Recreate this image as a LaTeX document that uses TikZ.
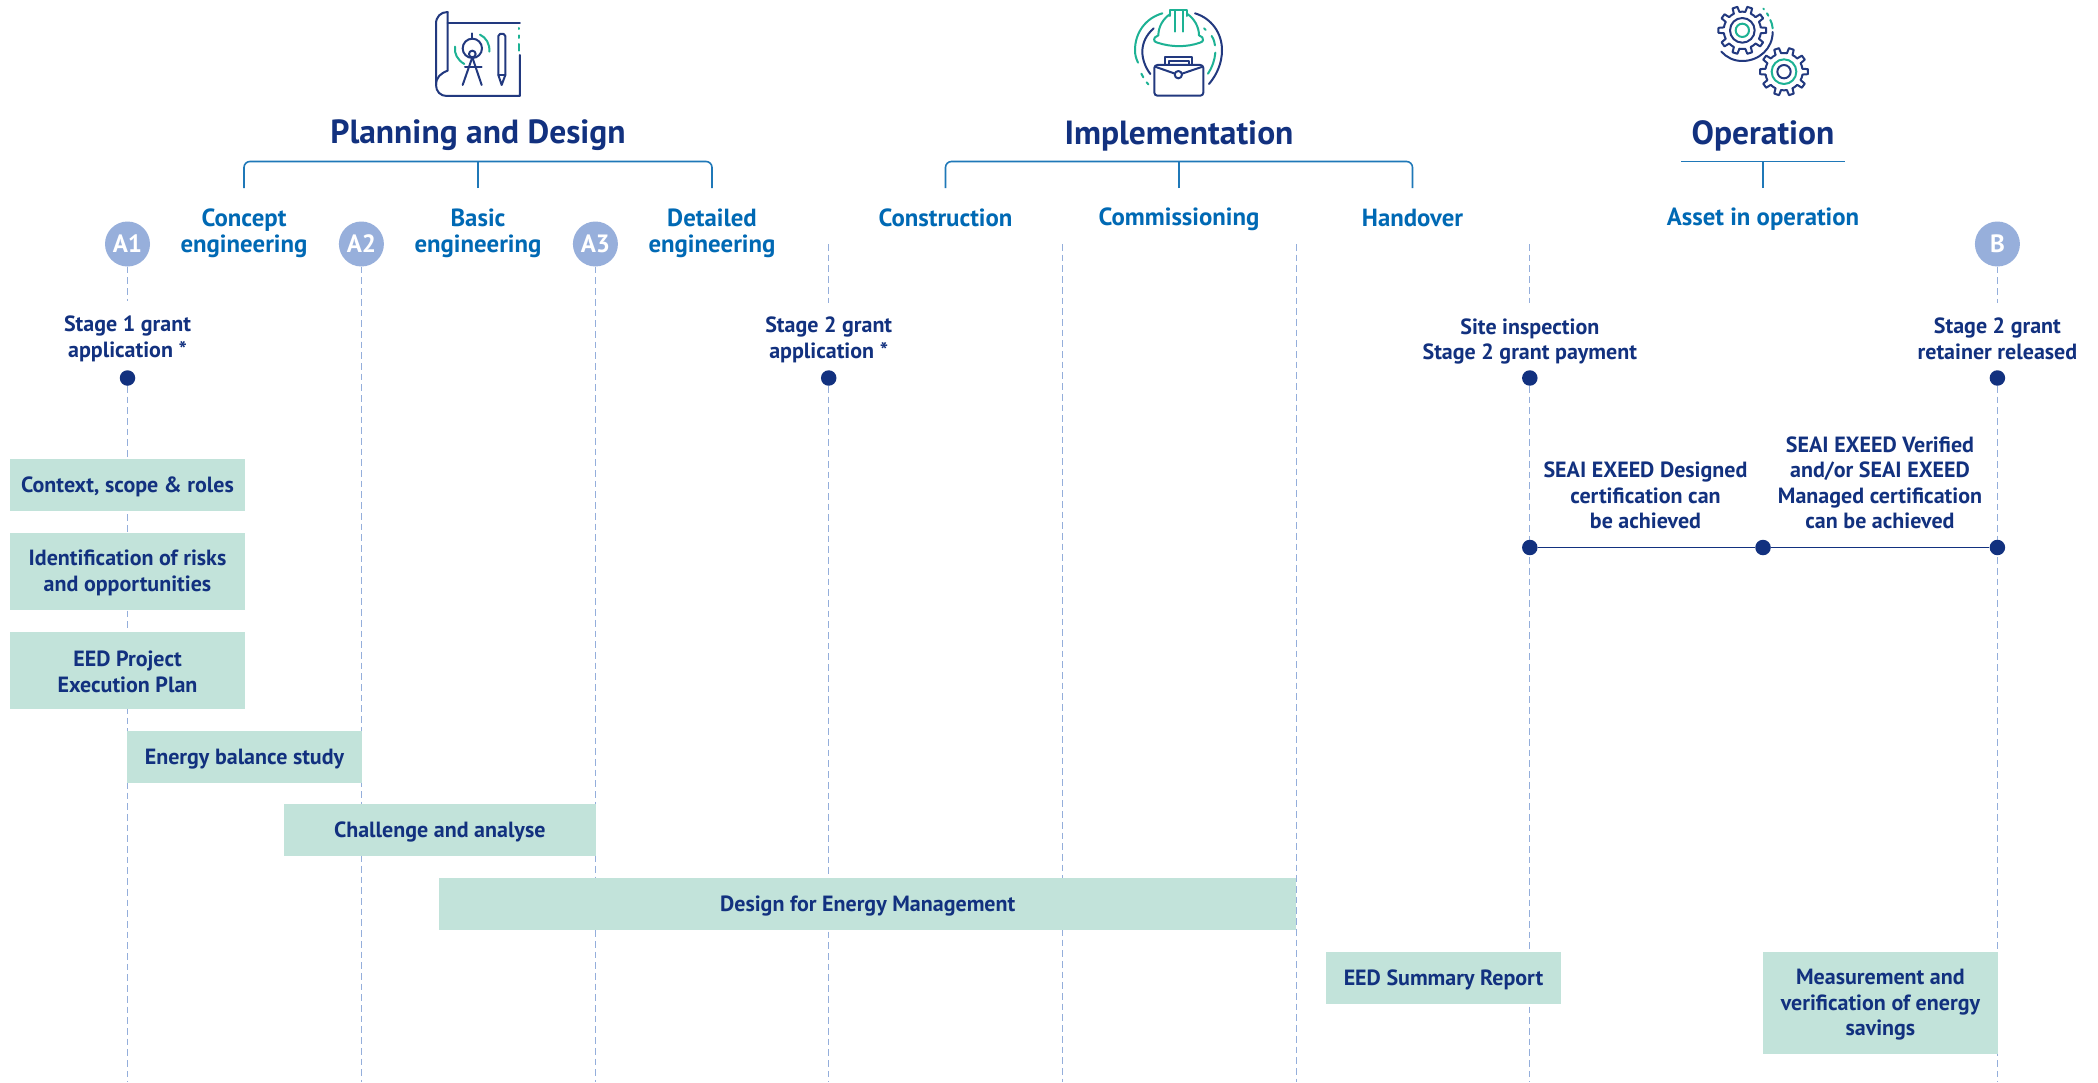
\documentclass[tikz,border=0pt]{standalone}
\usepackage{fontspec}
\setmainfont{PT Sans}[BoldFont={PT Sans Bold}]
\definecolor{navy}{HTML}{12317F}
\definecolor{iconnavy}{HTML}{22397F}
\definecolor{iconteal}{HTML}{1DB294}
\definecolor{lblue}{HTML}{0069B4}
\definecolor{brk}{HTML}{1F78B8}
\definecolor{disc}{HTML}{97AFDB}
\definecolor{boxfill}{HTML}{C2E3DA}
\definecolor{dashc}{HTML}{94AEDB}
\newcommand{\dn}{\rule{0pt}{19pt}}
\tikzset{
 x=1pt,y=-1pt,
 title/.style={font=\fontsize{33.5}{33.5}\selectfont\bfseries,text=navy,inner sep=0},
 phase/.style={font=\fontsize{24.8}{26}\selectfont\bfseries,text=lblue,align=center,inner sep=0},
 note/.style={font=\fontsize{22}{25.5}\selectfont\bfseries,text=navy,align=center,inner sep=0},
 disc/.style={circle,fill=disc,minimum size=45pt,inner sep=0,font=\fontsize{25}{25}\selectfont\bfseries,text=white},
 dot/.style={circle,fill=navy,minimum size=15.5pt,inner sep=0},
 taskbox/.style={fill=boxfill,inner sep=0,font=\fontsize{22}{25.5}\selectfont\bfseries,text=navy,align=center},
 guide/.style={draw=dashc,line width=1.3pt,dash pattern=on 6.7pt off 4pt},
 bracket/.style={draw=brk,line width=1.6pt,rounded corners=6pt},
 stem/.style={draw=brk,line width=1.6pt},
 tl/.style={draw=navy,line width=1.6pt},
 ic/.style={draw=iconnavy,line width=2pt,line cap=round,line join=round},
 it/.style={draw=iconteal,line width=2pt,line cap=round,line join=round},
}
\newcommand{\gearshape}[3]{% cx cy style
 \foreach \a in {0,36,...,324}{
  \draw[#3] ($(#1,#2)+(\a-9:56)$) -- ($(#1,#2)+(\a-6:72)$) -- ($(#1,#2)+(\a+6:72)$) -- ($(#1,#2)+(\a+9:56)$) arc[start angle=\a+9,end angle=\a+27,radius=56];
 }}
\usetikzlibrary{calc}
\begin{document}
\begin{tikzpicture}
\useasboundingbox (0,0) rectangle (2098,1082);
\fill[white] (0,0) rectangle (2098,1082);

% guides anchors
\node[disc] (A1) at (127.5,244) {A1};
\node[disc] (A2) at (361.4,244) {A2};
\node[disc] (A3) at (595.4,244) {A3};
\node[disc] (B) at (1997.4,244) {B};
\coordinate (g4t) at (828.7,244);
\coordinate (g5t) at (1062.4,244);
\coordinate (g6t) at (1296.4,244);
\coordinate (g7t) at (1529.8,244);
\coordinate (A1a) at (127.5,301);
\coordinate (g4a) at (828.7,303);
\coordinate (g7a) at (1529.8,303);
\coordinate (Ba) at (1997.4,303);
\node[dot] (d1) at (127.5,378) {};
\node[dot] (d4) at (828.7,378) {};
\node[dot] (d7) at (1529.8,378) {};
\node[dot] (dB) at (1997.4,378) {};
\coordinate (A1e) at (127.5,1082);
\coordinate (A2e) at (361.4,1082);
\coordinate (A3e) at (595.4,1082);
\coordinate (g4e) at (828.7,1082);
\coordinate (g5e) at (1062.4,1082);
\coordinate (g6e) at (1296.4,1082);
\coordinate (g7e) at (1529.8,1082);
\coordinate (Be) at (1997.4,1082);

\draw[guide] (A1) -- (A1a);
\draw[guide] (d1) -- (A1e);
\draw[guide] (A2) -- (A2e);
\draw[guide] (A3) -- (A3e);
\draw[guide] (g4t) -- (g4a);
\draw[guide] (d4) -- (g4e);
\draw[guide] (g5t) -- (g5e);
\draw[guide] (g6t) -- (g6e);
\draw[guide] (g7t) -- (g7a);
\draw[guide] (d7) -- (g7e);
\draw[guide] (B) -- (Ba);
\draw[guide] (dB) -- (Be);

% titles
\node[title] (t1) at (478,135.5) {Planning and Design};
\node[title] (t2) at (1179,135.5) {Implementation};
\node[title] (t3) at (1763,135.5) {Operation};

% phases
\node[phase] (p1) at (244,233) {Concept\\engineering};
\node[phase] (p2) at (478,233) {Basic\\engineering};
\node[phase] (p3) at (712,233) {Detailed\\engineering};
\node[phase] (p4) at (945.5,217.5) {Construction};
\node[phase] (p5) at (1179,219) {Commissioning};
\node[phase] (p6) at (1412.5,217.5) {Handover};
\node[phase] (p7) at (1763,219.5) {Asset in operation};

% brackets
\coordinate (b1a) at (244,188); \coordinate (b1m) at (478,188); \coordinate (b1b) at (712,188);
\coordinate (b2a) at (945.5,188); \coordinate (b2m) at (1179,188); \coordinate (b2b) at (1412.5,188);
\coordinate (b3a) at (1681,161.5); \coordinate (b3m) at (1763,188); \coordinate (b3b) at (1845,161.5);
\draw[bracket] (b1a) |- (b1b |- 0,161.5) -- (b1b);
\draw[stem] (b1m) -- (b1m |- 0,161.5);
\draw[bracket] (b2a) |- (b2b |- 0,161.5) -- (b2b);
\draw[stem] (b2m) -- (b2m |- 0,161.5);
\draw[stem] (b3a) -- (b3b);
\draw[stem] (b3m) -- (b3m |- 0,161.5);

% notes
\node[note] (n1) at (127.5,339) {Stage 1 grant\\application *};
\node[note] (n2) at (828.7,340) {Stage 2 grant\\application *};
\node[note] (n3) at (1529.8,341.3) {Site inspection\\Stage 2 grant payment};
\node[note] (n4) at (1997.4,339) {Stage 2 grant\\retainer released};
\node[note] (n5) at (1645.5,495.5) {SEAI EXEED Designed\\certification can\\be achieved};
\node[note] (n6) at (1880,483) {SEAI EXEED Verified\\and/or SEAI EXEED\\Managed certification\\can be achieved};

\node[dot] (t1d) at (1529.8,547.5) {};
\node[dot] (t2d) at (1763,547.5) {};
\node[dot] (t3d) at (1997.4,547.5) {};
\draw[tl] (t1d) -- (t2d);
\draw[tl] (t2d) -- (t3d);

% tasks
\node[taskbox,minimum width=235pt,minimum height=51.7pt] (k1) at (127.5,484.85) {\dn Context, scope \& roles};
\node[taskbox,minimum width=235pt,minimum height=76.7pt] (k2) at (127.5,571.35) {\dn Identification of risks\\and opportunities};
\node[taskbox,minimum width=235pt,minimum height=76.7pt] (k3) at (127.5,670.35) {\dn EED Project\\Execution Plan};
\node[taskbox,minimum width=234.4pt,minimum height=51.7pt] (k4) at (244.5,756.85) {\dn Energy balance study};
\node[taskbox,minimum width=311.5pt,minimum height=51.7pt] (k5) at (439.75,829.85) {\dn Challenge and analyse};
\node[taskbox,minimum width=857.4pt,minimum height=51.7pt] (k6) at (867.7,904.15) {\dn Design for Energy Management};
\node[taskbox,minimum width=235pt,minimum height=51.7pt] (k7) at (1443.5,977.85) {\dn EED Summary Report};
\node[taskbox,minimum width=235.2pt,minimum height=101.7pt] (k8) at (1880.4,1002.85) {\dn Measurement and\\verification of energy\\savings};

% icon planning
\begin{scope}[shift={(400,0)},x=0.3333pt,y=-0.3333pt]
 \draw[ic] (143,70) -- (360,70);
 \draw[ic] (143,36) .. controls (122,36) and (108,50) .. (108,72) -- (108,255) .. controls (108,275) and (122,288) .. (140,288) -- (360,288) -- (360,165);
 \draw[ic] (143,36) -- (143,212) .. controls (122,220) and (108,232) .. (108,255);
 \draw[it] (358,84) -- (358,87); \draw[it] (358,106) -- (358,114); \draw[it] (358,132) -- (358,152);
 \draw[ic] (217,145) circle[radius=29];
 \draw[ic] (217,162) circle[radius=10];
 \draw[ic] (217,100) -- (217,116);
 \draw[ic] (217,172) -- (188,255);
 \draw[ic] (217,172) -- (245,255);
 \draw[ic] (195,202) -- (245,202);
 \draw[it] (193,192) .. controls (172,180) and (162,160) .. (165,140);
 \draw[it] (240,104) .. controls (258,112) and (270,132) .. (268,155);
 \draw[ic] (295,225) -- (295,108) -- (300,102) -- (311,102) -- (316,108) -- (316,225) -- (305,255) -- cycle;
 \draw[ic] (295,225) -- (316,225);
\end{scope}

% icon implementation
\begin{scope}[shift={(1110,0)},x=0.3333pt,y=-0.3333pt]
 \draw[it] (181,48) -- (181,30) -- (232,30) -- (232,48);
 \draw[it] (181,42) .. controls (160,55) and (145,80) .. (145,106) -- (135,112) .. controls (130,120) and (132,125) .. (142,128) .. controls (185,142) and (230,142) .. (270,128) .. controls (280,125) and (282,118) .. (277,112) -- (267,106) .. controls (267,80) and (252,55) .. (232,42);
 \draw[it] (194,30) -- (194,95);
 \draw[it] (218,30) -- (218,95);
 \draw[it] (157,40) .. controls (105,55) and (75,100) .. (75,150) .. controls (75,165) and (78,175) .. (84,188);
 \draw[it] (94,221) -- (100,232); \draw[it] (110,247) -- (115,253);
 \draw[it] (282,85) -- (287,90);
 \draw[it] (305,108) .. controls (311,118) and (314,125) .. (315,136);
 \draw[it] (316,158) .. controls (314,180) and (307,202) .. (294,221);
 \draw[ic] (131,85) .. controls (108,105) and (97,130) .. (97,155) .. controls (97,178) and (106,202) .. (121,222);
 \draw[ic] (255,40) .. controls (305,55) and (336,100) .. (336,150) .. controls (336,190) and (320,225) .. (297,252);
 \draw[ic,rounded corners=3pt] (133,195) rectangle (280,287);
 \draw[ic] (166,195) -- (166,171) -- (247,171) -- (247,195);
 \draw[ic] (178,195) -- (178,184) -- (236,184) -- (236,195);
 \draw[ic] (135,200) -- (195,221);
 \draw[ic] (278,200) -- (216,221);
 \draw[ic] (205,224) circle[radius=11];
\end{scope}

% icon gears
\begin{scope}[shift={(1700,0)},x=0.3333pt,y=-0.3333pt]
 \gearshape{127}{91}{ic}
 \draw[ic] (127,91) circle[radius=37];
 \draw[it] (127,91) circle[radius=20];
 \draw[ic] (218,96) .. controls (218,145) and (178,183) .. (127,183) .. controls (100,183) and (80,172) .. (64,155);
 \draw[it] (218,85) .. controls (217,75) and (215,68) .. (211,60);
 \draw[it] (205,47) -- (201,40);
 \draw[it] (192,28) -- (190,26);
 \gearshape{252}{215}{ic}
 \draw[it] (252,215) circle[radius=37];
 \draw[ic] (252,215) circle[radius=20];
\end{scope}
\end{tikzpicture}
\end{document}
